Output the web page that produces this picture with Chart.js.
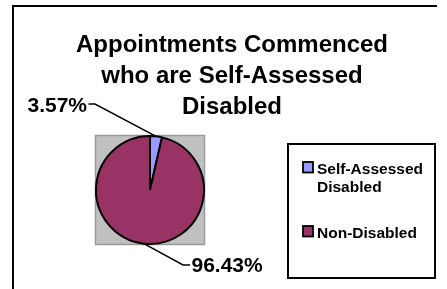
<!DOCTYPE html>
<html>
<head>
<meta charset="utf-8">
<script src="https://cdn.jsdelivr.net/npm/chart.js@4/dist/chart.umd.min.js"></script>
<style>
  html, body { margin: 0; padding: 0; background: #ffffff; overflow: hidden; }
  #wrap { width: 447px; height: 289px; position: relative; overflow: hidden; }
  canvas { display: block; }
</style>
</head>
<body>
<div id="wrap"><canvas id="c" width="447" height="289"></canvas></div>
<script>
// ---- data ----
const titleLines = ["Appointments Commenced", "who are Self-Assessed", "Disabled"];
const categories = ["Self-Assessed Disabled", "Non-Disabled"];
const percentValues = [3.57, 96.43];
const percentLabels = ["3.57%", "96.43%"];
const sliceColors = ["#9999FF", "#993366"];

const FONT = "'Liberation Sans', Arial, Helvetica, sans-serif";

function wrapText(ctx, text, maxW) {
  const words = text.split(" ");
  const lines = [];
  let cur = "";
  for (const w of words) {
    const t = cur ? cur + " " + w : w;
    if (ctx.measureText(t).width > maxW && cur) { lines.push(cur); cur = w; }
    else cur = t;
  }
  if (cur) lines.push(cur);
  return lines;
}

const decorPlugin = {
  id: "decor",
  beforeDatasetsDraw(chart) {
    const ctx = chart.ctx;
    const a = chart.chartArea;
    ctx.save();
    // outer chart border (top and left edges only visible)
    ctx.strokeStyle = "#000";
    ctx.lineWidth = 2;
    ctx.beginPath();
    ctx.moveTo(13, 300);
    ctx.lineTo(13, 6);
    ctx.lineTo(437, 6);
    ctx.stroke();
    // plot area gray square
    ctx.fillStyle = "#C0C0C0";
    ctx.fillRect(a.left, a.top, a.right - a.left, a.bottom - a.top);
    ctx.strokeStyle = "#9a9a9a";
    ctx.lineWidth = 1.5;
    ctx.strokeRect(a.left + 0.5, a.top + 0.5, a.right - a.left - 1, a.bottom - a.top - 1);
    ctx.restore();
  },
  afterDatasetsDraw(chart) {
    const ctx = chart.ctx;
    ctx.save();
    // title
    ctx.fillStyle = "#000";
    ctx.font = "bold 24px " + FONT;
    ctx.textAlign = "center";
    ctx.textBaseline = "alphabetic";
    const tb = [52, 83, 113.5];
    titleLines.forEach((l, i) => ctx.fillText(l, 232, tb[i]));

    // data labels with leader lines
    const meta = chart.getDatasetMeta(0);
    const anchors = [
      { elbow: [95, 104], end: [88.5, 104], tx: 87, ty: 112, align: "right" },
      { elbow: [183, 265], end: [190, 265], tx: 191.5, ty: 272, align: "left" }
    ];
    meta.data.forEach((arc, i) => {
      const p = arc.getProps(["x", "y", "startAngle", "endAngle", "outerRadius"], true);
      const mid = (p.startAngle + p.endAngle) / 2;
      const sx = p.x + Math.cos(mid) * p.outerRadius;
      const sy = p.y + Math.sin(mid) * p.outerRadius;
      const an = anchors[i];
      ctx.strokeStyle = "#000";
      ctx.lineWidth = 1.5;
      ctx.beginPath();
      ctx.moveTo(sx, sy);
      ctx.lineTo(an.elbow[0], an.elbow[1]);
      ctx.lineTo(an.end[0], an.end[1]);
      ctx.stroke();
      ctx.fillStyle = "#000";
      ctx.font = "bold 21px " + FONT;
      ctx.textAlign = an.align;
      ctx.fillText(percentLabels[i], an.tx, an.ty);
    });

    // legend
    const lx = 288, ly = 144, lw = 147, lh = 134;
    ctx.fillStyle = "#fff";
    ctx.fillRect(lx, ly, lw, lh);
    ctx.strokeStyle = "#000";
    ctx.lineWidth = 2;
    ctx.strokeRect(lx, ly, lw, lh);
    ctx.font = "bold 15.5px " + FONT;
    ctx.textAlign = "left";
    let y = 162;
    categories.forEach((c, i) => {
      ctx.fillStyle = sliceColors[i];
      ctx.fillRect(303, y, 10, 10.5);
      ctx.strokeStyle = "#000";
      ctx.lineWidth = 1.8;
      ctx.strokeRect(303, y, 10, 10.5);
      const lines = wrapText(ctx, c, 112);
      ctx.fillStyle = "#000";
      lines.forEach((l, k) => ctx.fillText(l, 317, y + 12 + k * 18));
      y += lines.length * 18 + 28;
    });
    ctx.restore();
  }
};

new Chart(document.getElementById("c"), {
  type: "pie",
  data: {
    labels: categories,
    datasets: [{
      data: percentValues,
      backgroundColor: sliceColors,
      borderColor: "#000",
      borderWidth: 2,
      hoverOffset: 0,
      offset: 0
    }]
  },
  options: {
    responsive: false,
    animation: false,
    events: [],
    layout: { padding: { left: 95, top: 135, right: 242, bottom: 44 } },
    plugins: {
      legend: { display: false },
      title: { display: false },
      tooltip: { enabled: false }
    }
  },
  plugins: [decorPlugin]
});
</script>
</body>
</html>
